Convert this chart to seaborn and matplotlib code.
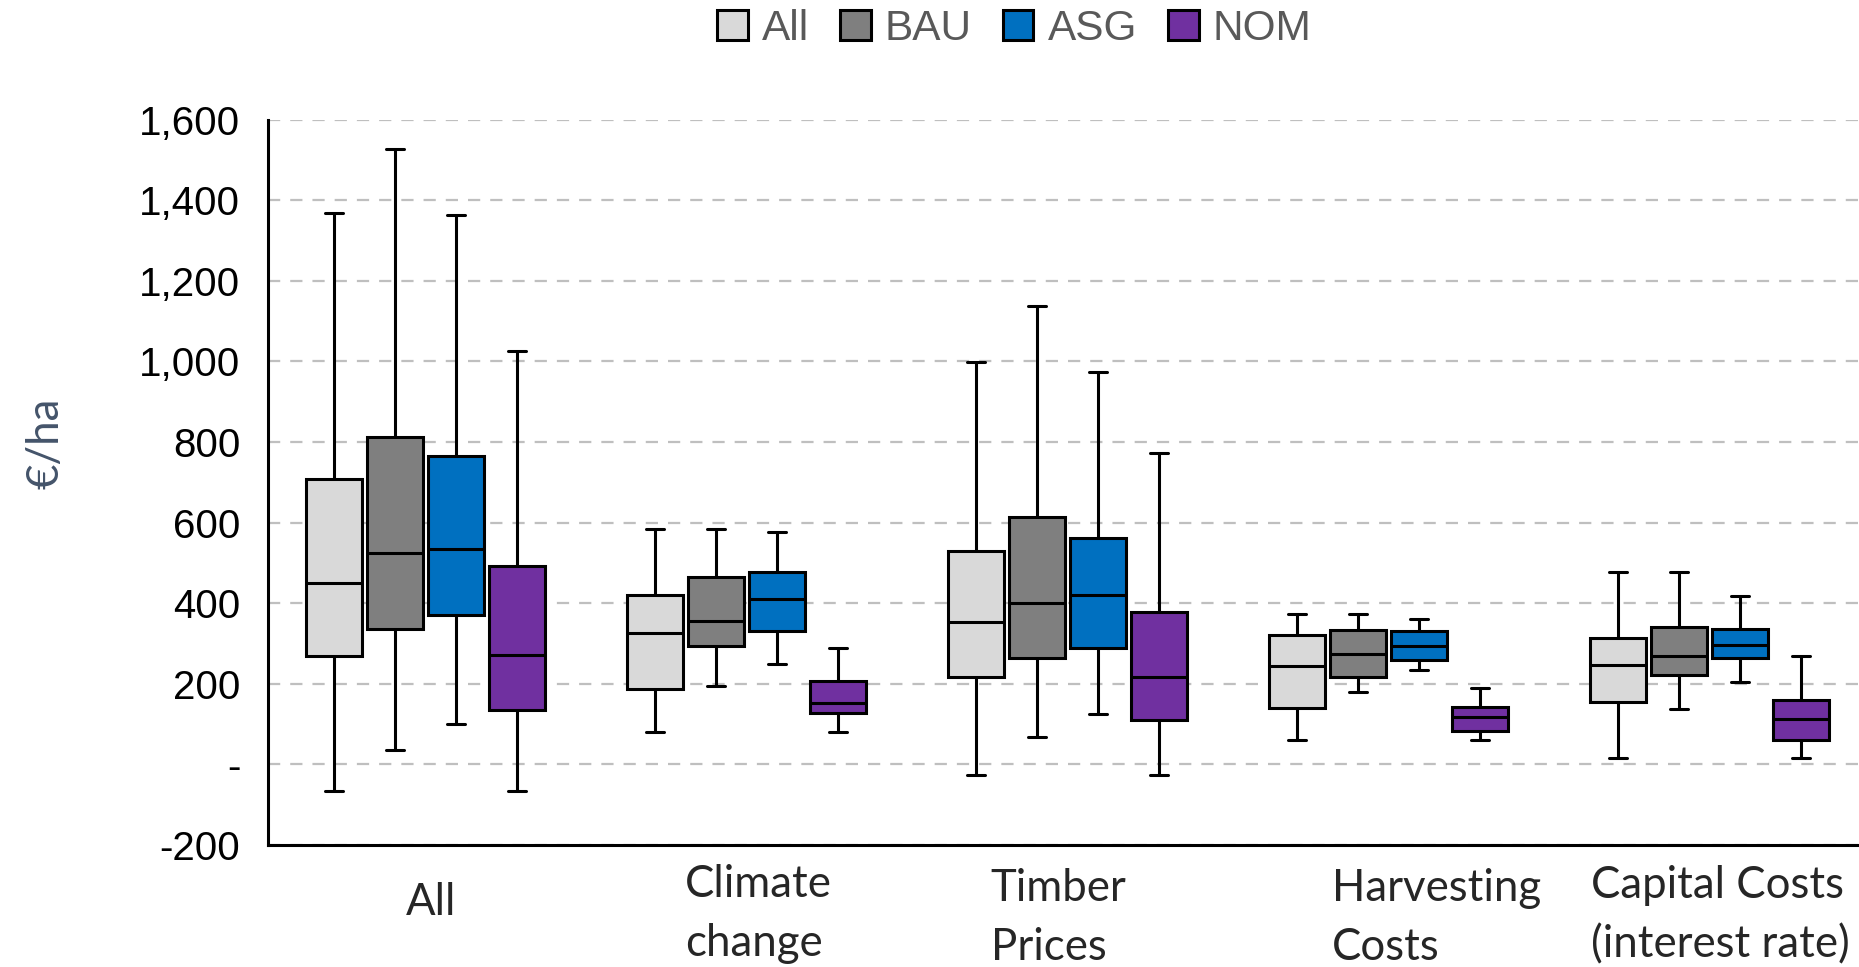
import numpy as np
import pandas as pd
import matplotlib
matplotlib.use("Agg")
import matplotlib.pyplot as plt
import matplotlib.transforms as mtransforms
import seaborn as sns
from matplotlib.ticker import FuncFormatter, MultipleLocator

categories = ["All", "Climate\nchange", "Timber\nPrices", "Harvesting\nCosts",
              "Capital Costs\n(interest rate)"]
scenarios = ["All", "BAU", "ASG", "NOM"]
colors = ["#D9D9D9", "#7F7F7F", "#0070C0", "#7030A0"]

# five-number summaries per category: [lower whisker, Q1, median, Q3, upper whisker]
stats_all = [[-66, 270, 450, 708, 1369], [81, 186, 327, 420, 583],
             [-26, 218, 354, 530, 998], [60, 140, 245, 322, 374],
             [17, 154, 246, 313, 477]]
stats_bau = [[36, 336, 524, 812, 1528], [195, 294, 355, 465, 583],
             [69, 265, 401, 613, 1137], [180, 218, 275, 334, 374],
             [137, 222, 268, 342, 477]]
stats_asg = [[101, 370, 535, 765, 1363], [248, 332, 410, 477, 576],
             [125, 289, 420, 563, 974], [235, 260, 293, 331, 360],
             [204, 263, 297, 337, 418]]
stats_nom = [[-66, 135, 271, 492, 1026], [81, 127, 152, 208, 290],
             [-26, 111, 218, 377, 774], [60, 84, 118, 142, 190],
             [17, 60, 113, 161, 268]]

stats_by_scenario = {"All": stats_all, "BAU": stats_bau, "ASG": stats_asg, "NOM": stats_nom}

rows = []
for scen, stats in stats_by_scenario.items():
    for cat, five in zip(categories, stats):
        for v in five:
            rows.append({"category": cat, "scenario": scen, "value": v})
df = pd.DataFrame(rows)

sns.set_style("white")
plt.rcParams["font.family"] = ["Liberation Sans", "DejaVu Sans"]

fig = plt.figure(figsize=(18.59, 9.67), dpi=100)
ax = fig.add_axes([0.1442, 0.1262, 0.8558, 0.7500])

sns.boxplot(data=df, x="category", y="value", hue="scenario",
            order=categories, hue_order=scenarios, palette=colors,
            whis=(0, 100), width=0.76, gap=0.08, linecolor="black",
            linewidth=2.2, saturation=1, fliersize=0, capwidths=0.055, ax=ax)

ax.set_ylim(-200, 1600)
ax.set_xlim(-0.491, 4.465)
ax.yaxis.set_major_locator(MultipleLocator(200))
ax.yaxis.set_major_formatter(FuncFormatter(lambda v, p: "-" if abs(v) < 1e-9 else f"{v:,.0f}"))
ax.yaxis.grid(True, color="#BFBFBF", linestyle=(0, (5.5, 4.5)), linewidth=1.6)
ax.xaxis.grid(False)
ax.set_axisbelow(True)

for s in ["top", "right"]:
    ax.spines[s].set_visible(False)
for s in ["left", "bottom"]:
    ax.spines[s].set_color("black")
    ax.spines[s].set_linewidth(2.2)

ax.tick_params(axis="y", length=0, pad=20, labelsize=29, labelcolor="black")
ax.tick_params(axis="x", length=0, pad=18)

# per-label shifts (pixels) of the left-aligned multi-line category labels
label_dx = [-20, -62, -77, -57, -119]
label_dy = [-12, 6, 2, 2, 5]
for lbl, dx, dy in zip(ax.get_xticklabels(), label_dx, label_dy):
    lbl.set_fontfamily(["Lato", "DejaVu Sans"])
    lbl.set_fontsize(31.5)
    lbl.set_linespacing(1.55)
    lbl.set_verticalalignment("top")
    lbl.set_horizontalalignment("left")
    lbl.set_multialignment("left")
    lbl.set_transform(lbl.get_transform() +
                      mtransforms.ScaledTranslation(dx / 100, dy / 100, fig.dpi_scale_trans))

ax.set_xlabel("")
ax.set_ylabel("€/ha", fontfamily=["Lato", "DejaVu Sans"], fontsize=31.5, color="#44546A")
ax.yaxis.set_label_coords(-0.1265, 0.554)

sns.move_legend(ax, "center", bbox_to_anchor=(0.5455, 0.970),
                bbox_transform=fig.transFigure, ncol=4, frameon=False, title=None,
                handlelength=0.73, handleheight=0.73, handletextpad=0.33,
                columnspacing=0.73, fontsize=30.5, borderaxespad=0.0)
leg = ax.get_legend()
for t in leg.get_texts():
    t.set_color("#595959")
for h in leg.legend_handles:
    h.set_edgecolor("black")
    h.set_linewidth(2.2)

fig.savefig("out.png", dpi=100)
